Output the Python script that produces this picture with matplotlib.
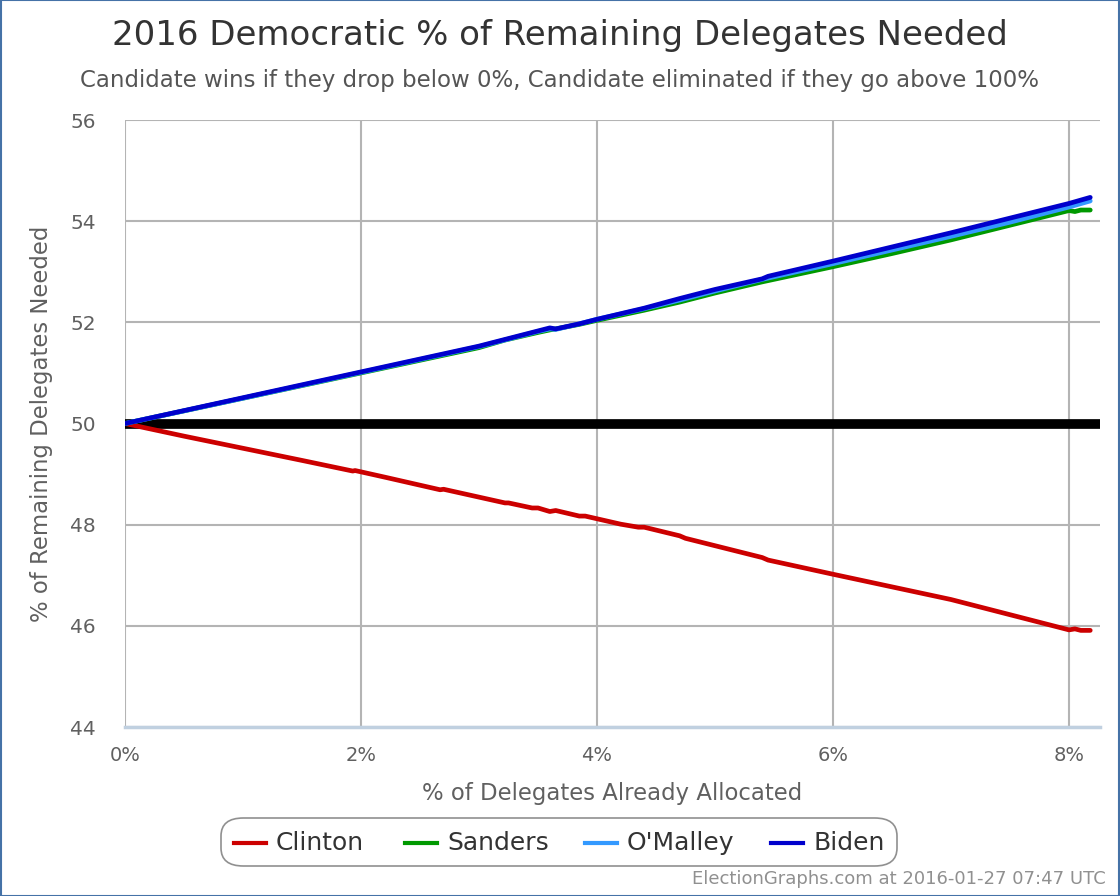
import matplotlib
matplotlib.use("Agg")
import matplotlib.pyplot as plt
from matplotlib.patches import FancyBboxPatch, Rectangle

# Data
clinton_x = [0.0, 0.5, 1.0, 1.5, 1.93, 1.95, 2.2, 2.67, 2.7, 3.22, 3.25, 3.45, 3.5, 3.6, 3.65, 3.85, 3.9, 4.2, 4.35, 4.4, 4.7, 4.75, 5.4, 5.45, 6.0, 6.5, 7.0, 7.5, 8.0, 8.05, 8.1, 8.18]
clinton_y = [50.0, 49.75, 49.51, 49.27, 49.06, 49.07, 48.94, 48.69, 48.70, 48.43, 48.43, 48.33, 48.33, 48.26, 48.28, 48.17, 48.17, 48.01, 47.95, 47.95, 47.78, 47.73, 47.35, 47.30, 47.02, 46.77, 46.52, 46.22, 45.92, 45.94, 45.91, 45.91]

sanders_x = [0.0, 1.0, 2.0, 3.0, 3.22, 3.5, 3.6, 3.65, 3.85, 4.0, 4.4, 4.7, 5.0, 5.4, 6.0, 6.5, 7.0, 7.5, 8.0, 8.05, 8.1, 8.18]
sanders_y = [50.0, 50.50, 51.00, 51.50, 51.65, 51.80, 51.85, 51.87, 51.96, 52.04, 52.24, 52.40, 52.58, 52.80, 53.10, 53.36, 53.63, 53.92, 54.21, 54.19, 54.22, 54.22]

omalley_x = [0.0, 1.0, 2.0, 3.0, 3.5, 3.6, 3.65, 3.85, 4.0, 4.4, 4.7, 5.0, 5.4, 6.0, 6.5, 7.0, 7.5, 8.0, 8.18]
omalley_y = [50.0, 50.50, 51.01, 51.52, 51.82, 51.87, 51.86, 51.97, 52.06, 52.27, 52.44, 52.62, 52.85, 53.16, 53.43, 53.70, 53.98, 54.28, 54.40]

biden_x = [0.0, 1.0, 2.0, 3.0, 3.5, 3.6, 3.65, 3.85, 4.0, 4.4, 4.7, 5.0, 5.4, 5.45, 6.0, 6.5, 7.0, 7.5, 8.0, 8.18]
biden_y = [50.0, 50.51, 51.02, 51.53, 51.83, 51.89, 51.87, 51.97, 52.06, 52.28, 52.47, 52.65, 52.86, 52.91, 53.21, 53.49, 53.77, 54.06, 54.35, 54.47]

names = ["Clinton", "Sanders", "O'Malley", "Biden"]
colors = ["#CC0000", "#009900", "#3399FF", "#0000CC"]

x_ticks = [0, 2, 4, 6, 8]
x_tick_labels = ["0%", "2%", "4%", "6%", "8%"]
y_ticks = [44, 46, 48, 50, 52, 54, 56]

plt.rcParams['font.family'] = ['DejaVu Sans']

fig = plt.figure(figsize=(11.2, 8.96), dpi=100)
W, H = 1120, 896
ax = fig.add_axes([125 / W, 1 - 727 / H, (1100 - 125) / W, (727 - 120) / H])

series = [(clinton_x, clinton_y), (sanders_x, sanders_y), (omalley_x, omalley_y), (biden_x, biden_y)]
ax.axhline(50, color="black", lw=7, zorder=2)
for (xs, ys), c, n in zip(series, colors, names):
    ax.plot(xs, ys, color=c, lw=3.4, label=n, zorder=3, solid_capstyle="round", solid_joinstyle="round")

ax.set_xlim(0, (1100 - 125) / 118.0)
ax.set_ylim(44, 56)
ax.set_xticks(x_ticks)
ax.set_xticklabels(x_tick_labels)
ax.set_yticks(y_ticks)
ax.grid(True, color="#B4B4B4", lw=1.5)
ax.set_axisbelow(True)
for s in ["top", "right", "left"]:
    ax.spines[s].set_visible(False)
ax.spines["bottom"].set_color("#C0D0E0")
ax.spines["bottom"].set_linewidth(2.5)
ax.tick_params(axis="x", length=0, pad=14, labelsize=14, labelcolor="#606060")
ax.tick_params(axis="y", length=0, pad=21, labelsize=14.5, labelcolor="#606060")
ax.set_xlabel("% of Delegates Already Allocated", fontsize=16.4, color="#606060", labelpad=12)
ax.set_ylabel("% of Remaining Delegates Needed", fontsize=16.4, color="#606060", labelpad=12)

fig.text(560 / W, 1 - 36 / H, "2016 Democratic % of Remaining Delegates Needed", ha="center", va="center", fontsize=24.5, color="#333333")
fig.text(560 / W, 1 - 80 / H, "Candidate wins if they drop below 0%, Candidate eliminated if they go above 100%", ha="center", va="center", fontsize=16.5, color="#555555")

# Legend box
box = FancyBboxPatch((221 / W, 1 - 866 / H), (897 - 221) / W, (866 - 818) / H,
                     boxstyle="round,pad=0,rounding_size=0.02", transform=fig.transFigure,
                     facecolor="white", edgecolor="#909090", lw=1.2)
fig.patches.append(box)
leg_x = [234, 405, 585, 771]
for lx, c, n in zip(leg_x, colors, names):
    fig.lines.append(plt.Line2D([lx / W, (lx + 32) / W], [1 - 843 / H, 1 - 843 / H], color=c, lw=3, transform=fig.transFigure))
    fig.text((lx + 42) / W, 1 - 843 / H, n, ha="left", va="center", fontsize=18, color="#333333")

fig.text(1106 / W, 1 - 879 / H, "ElectionGraphs.com at 2016-01-27 07:47 UTC", ha="right", va="center", fontsize=13, color="#909090")

fig.patches.append(Rectangle((0.0005, 0.0005), 0.999, 0.999, transform=fig.transFigure, fill=False, edgecolor="#4572A7", lw=1.5))

fig.savefig("out.png", dpi=100)
